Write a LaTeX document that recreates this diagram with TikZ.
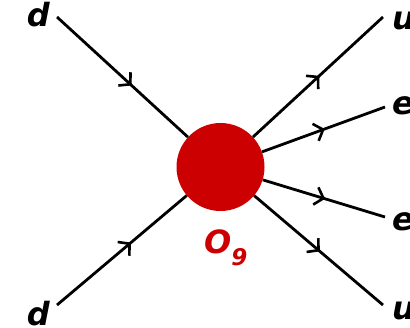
\documentclass[tikz,border=0pt]{standalone}
\usepackage{fontspec}
\setmainfont{DejaVu Sans}
\usepackage{tikz}
\usepackage{xcolor}
\usetikzlibrary{arrows.meta, decorations.markings}
\definecolor{vertexred}{RGB}{204,0,0}

\begin{document}
\begin{tikzpicture}[x=1pt, y=-1pt,
    fermion/.style={line width=2.8pt, postaction={decorate},
        decoration={markings, mark=at position #1 with {\arrow{Straight Barb[length=8pt, width=18pt, line width=2.6pt]}}}},
    fermion/.default=0.51,
    lbl/.style={inner sep=0pt, font=\fontsize{32}{36}\selectfont\bfseries\itshape}]
    \useasboundingbox (0,0) rectangle (410,327);
    \node[circle, fill=vertexred, minimum size=88pt, inner sep=0pt] (vtx) at (220.5,167) {};
    \node[lbl, text=vertexred, anchor=base west] (oname) at (204,253) {O\raisebox{-12pt}{\fontsize{23}{23}\selectfont 9}};
    % external legs
    \coordinate (din1) at (57,17);
    \coordinate (din2) at (57,305);
    \coordinate (uout1) at (383,17);
    \coordinate (eout1) at (385,107);
    \coordinate (eout2) at (385,217);
    \coordinate (uout2) at (383,305);
    \draw[fermion=0.57] (din1) -- (vtx);
    \draw[fermion=0.57] (din2) -- (vtx);
    \draw[fermion] (vtx) -- (uout1);
    \draw[fermion] (vtx) -- (eout1);
    \draw[fermion] (vtx) -- (eout2);
    \draw[fermion] (vtx) -- (uout2);
    % labels
    \node[lbl, anchor=east] (ldin1) at (50,14.5) {d};
    \node[lbl, anchor=east] (ldin2) at (50,314) {d};
    \node[lbl, anchor=west] (luout1) at (392,20.5) {u};
    \node[lbl, anchor=west] (leout1) at (392,106) {e};
    \node[lbl, anchor=west] (leout2) at (392,221.5) {e};
    \node[lbl, anchor=west] (luout2) at (392,311) {u};
\end{tikzpicture}
\end{document}
